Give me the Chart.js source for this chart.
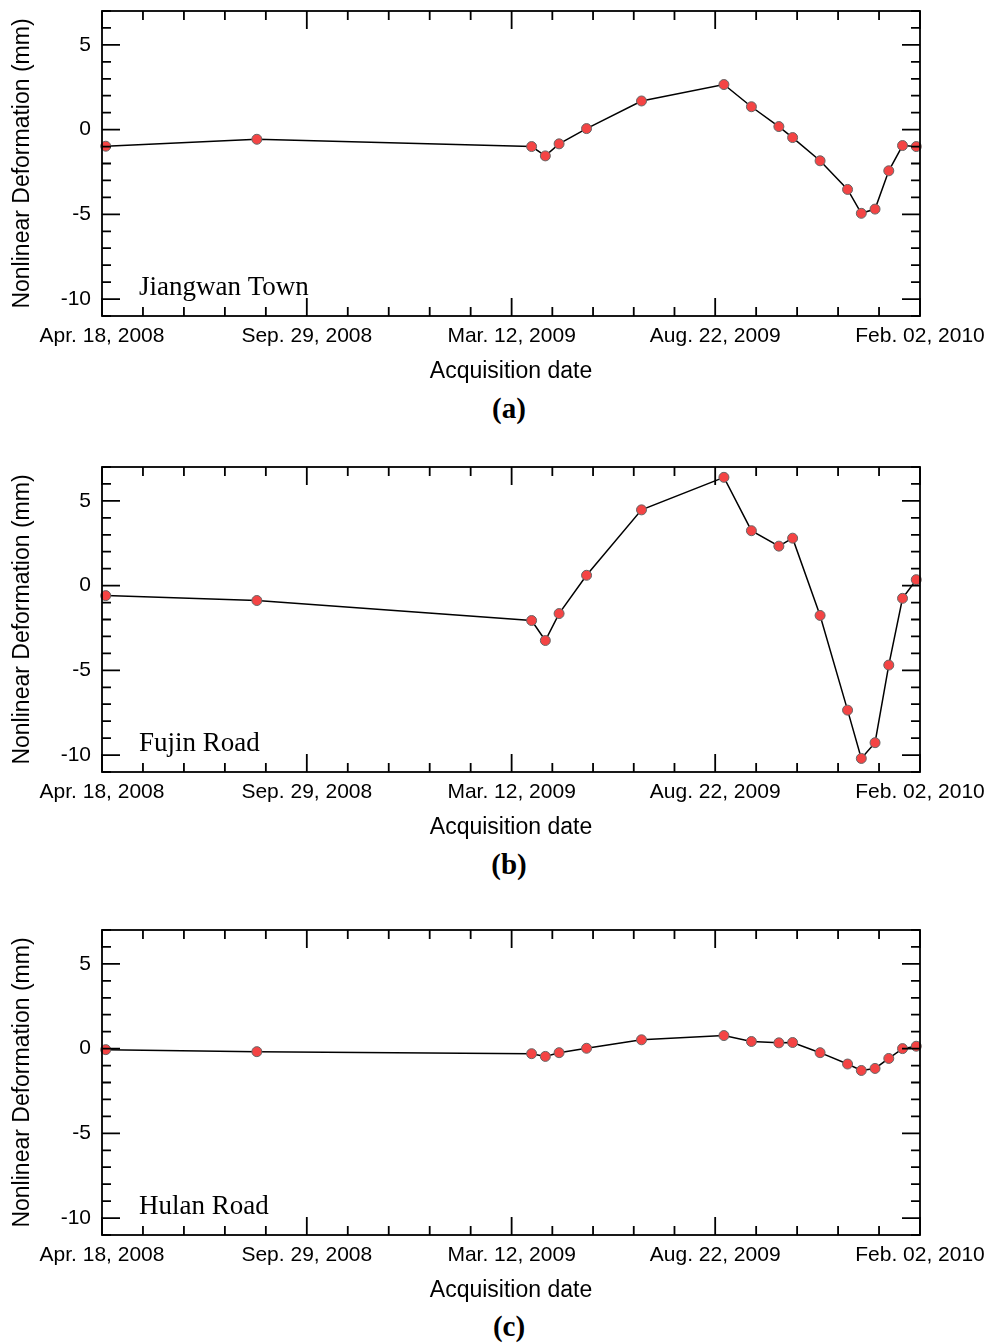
<!DOCTYPE html>
<html>
<head>
<meta charset="utf-8">
<script src="https://cdn.jsdelivr.net/npm/chart.js@4.4.1/dist/chart.umd.min.js"></script>
<style>
  body { margin: 0; background: #fff; }
  #wrap { position: relative; width: 987px; height: 1344px; }
  .panel { position: absolute; left: 0; width: 987px; height: 390px; }
  .cap { position: absolute; left: 0; width: 1018px; text-align: center;
         font: bold 29px "Liberation Serif", "Times New Roman", serif; }
</style>
</head>
<body>
<div id="wrap">
  <div class="panel" style="top:0px"><canvas id="chartA"></canvas></div>
  <div class="cap" style="top:392px">(a)</div>
  <div class="panel" style="top:456px"><canvas id="chartB"></canvas></div>
  <div class="cap" style="top:848px">(b)</div>
  <div class="panel" style="top:919px"><canvas id="chartC"></canvas></div>
  <div class="cap" style="top:1310px">(c)</div>
</div>
<script>
// acquisition dates (TerraSAR-X, 11 day repeat)
const acqDates = ['2008-04-21', '2008-08-20', '2009-03-28', '2009-04-08', '2009-04-19', '2009-05-11',
  '2009-06-24', '2009-08-29', '2009-09-20', '2009-10-12', '2009-10-23', '2009-11-14',
  '2009-12-06', '2009-12-17', '2009-12-28', '2010-01-08', '2010-01-19', '2010-01-30'];

// major tick dates and their labels
const tickDates = ['2008-04-18', '2008-09-29', '2009-03-12', '2009-08-22', '2010-02-02'];
const tickLabels = ['Apr. 18, 2008', 'Sep. 29, 2008', 'Mar. 12, 2009', 'Aug. 22, 2009', 'Feb. 02, 2010'];

// nonlinear deformation (mm)
const jiangwan = [-0.98, -0.57, -1.0, -1.55, -0.84, 0.06, 1.69, 2.66, 1.35, 0.18, -0.47, -1.84, -3.53, -4.94, -4.69, -2.43, -0.94, -1.0];
const fujin = [-0.59, -0.88, -2.06, -3.24, -1.65, 0.61, 4.47, 6.39, 3.24, 2.33, 2.8, -1.76, -7.35, -10.2, -9.27, -4.69, -0.75, 0.35];
const hulan = [-0.06, -0.18, -0.3, -0.46, -0.24, 0.02, 0.52, 0.77, 0.42, 0.34, 0.36, -0.24, -0.91, -1.29, -1.17, -0.58, 0.0, 0.14];

const yMin = -11, yMax = 7;

function dayNum(s) {
  const p = s.split('-');
  return Date.UTC(+p[0], +p[1] - 1, +p[2]) / 86400000;
}
const day0 = dayNum(tickDates[0]);
const xDays = acqDates.map(d => dayNum(d) - day0);
const majorDays = tickDates.map(d => dayNum(d) - day0);

// 4 minor ticks between each pair of major dates
const xTickVals = [];
for (let i = 0; i < majorDays.length - 1; i++) {
  for (let k = 0; k < 5; k++) {
    xTickVals.push(majorDays[i] + (majorDays[i + 1] - majorDays[i]) * k / 5);
  }
}
xTickVals.push(majorDays[majorDays.length - 1]);

const sansFont = '"Liberation Sans", Arial, Helvetica, sans-serif';

// frame + inward ticks on all four sides, and the site name
const framePlugin = {
  id: 'frame',
  afterDraw(chart, args, opts) {
    const { ctx, chartArea: a } = chart;
    const xs = chart.scales.x, ys = chart.scales.y;
    ctx.save();
    ctx.strokeStyle = '#000';
    ctx.lineWidth = 1.8;
    ctx.strokeRect(a.left, a.top, a.right - a.left, a.bottom - a.top);
    ctx.beginPath();
    xs.ticks.forEach((t, i) => {
      const px = xs.getPixelForValue(t.value);
      const len = i % 5 === 0 ? 18 : 9;
      ctx.moveTo(px, a.bottom); ctx.lineTo(px, a.bottom - len);
      ctx.moveTo(px, a.top); ctx.lineTo(px, a.top + len);
    });
    ys.ticks.forEach(t => {
      const py = ys.getPixelForValue(t.value);
      const len = t.value % 5 === 0 ? 18 : 9;
      ctx.moveTo(a.left, py); ctx.lineTo(a.left + len, py);
      ctx.moveTo(a.right, py); ctx.lineTo(a.right - len, py);
    });
    ctx.stroke();
    ctx.fillStyle = '#000';
    ctx.font = '27px "Liberation Serif", "Times New Roman", serif';
    ctx.textBaseline = 'alphabetic';
    ctx.fillText(opts.site, a.left + 37, a.bottom - 21);
    ctx.restore();
  }
};

function makePanel(id, values, site) {
  new Chart(document.getElementById(id), {
    type: 'line',
    data: {
      datasets: [{
        data: xDays.map((d, i) => ({ x: d, y: values[i] })),
        borderColor: '#000',
        borderWidth: 1.5,
        pointRadius: 5,
        pointBackgroundColor: '#f44444',
        pointBorderColor: '#666',
        pointBorderWidth: 1,
        tension: 0,
        clip: false
      }]
    },
    options: {
      responsive: true,
      maintainAspectRatio: false,
      animation: false,
      layout: { padding: { top: 11, right: 67, left: 0, bottom: 0 } },
      plugins: { legend: { display: false }, tooltip: { enabled: false }, frame: { site: site } },
      scales: {
        x: {
          type: 'linear',
          min: majorDays[0],
          max: majorDays[majorDays.length - 1],
          afterBuildTicks: s => { s.ticks = xTickVals.map(v => ({ value: v })); },
          afterFit: s => { s.height = 74; s.paddingLeft = 0; s.paddingRight = 0; },
          grid: { display: false, drawTicks: false },
          border: { display: false },
          ticks: {
            autoSkip: false,
            maxRotation: 0,
            padding: 8,
            color: '#000',
            font: { family: sansFont, size: 21 },
            callback: (v, i) => i % 5 === 0 ? tickLabels[i / 5] : ''
          },
          title: {
            display: true,
            text: 'Acquisition date',
            color: '#000',
            font: { family: sansFont, size: 23 },
            padding: { top: 0, bottom: 5 }
          }
        },
        y: {
          min: yMin,
          max: yMax,
          afterBuildTicks: s => {
            const t = [];
            for (let v = yMin; v <= yMax; v++) t.push({ value: v });
            s.ticks = t;
          },
          afterFit: s => { s.width = 102; s.paddingTop = 0; s.paddingBottom = 0; },
          grid: { display: false, drawTicks: false },
          border: { display: false },
          ticks: {
            autoSkip: false,
            padding: 11,
            color: '#000',
            font: { family: sansFont, size: 21 },
            callback: v => v % 5 === 0 ? String(v) : ''
          },
          title: {
            display: true,
            text: 'Nonlinear Deformation (mm)',
            color: '#000',
            font: { family: sansFont, size: 23 },
            padding: { top: 9, bottom: 0 }
          }
        }
      }
    },
    plugins: [framePlugin]
  });
}

makePanel('chartA', jiangwan, 'Jiangwan Town');
makePanel('chartB', fujin, 'Fujin Road');
makePanel('chartC', hulan, 'Hulan Road');
</script>
</body>
</html>
